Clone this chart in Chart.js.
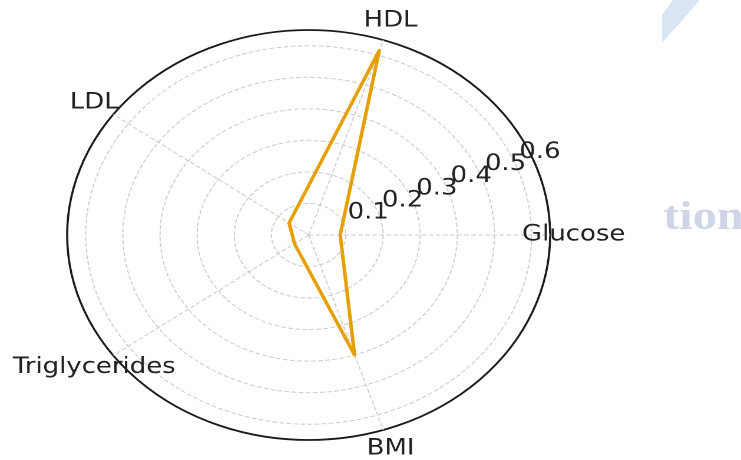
<!DOCTYPE html>
<html>
<head>
<meta charset="utf-8">
<script src="https://cdn.jsdelivr.net/npm/chart.js@4.4.0/dist/chart.umd.min.js"></script>
<style>
  html, body { margin: 0; padding: 0; background: #fff; overflow: hidden; }
  body { width: 741px; height: 460px; position: relative; }
  /* the reference picture is stretched sideways, so the whole chart is too */
  #wrap {
    position: absolute; left: 0; top: 0;
    width: 629px; height: 460px;
    transform: scaleX(1.178); transform-origin: 0 0;
  }
  #mark {
    position: absolute; left: 563px; top: 191px;
    font: bold 41px "Liberation Serif", serif;
    color: #cfd5e6;
  }
  #stripe {
    position: absolute; left: 662px; top: 0; width: 40px; height: 44px;
    background: #d9e4f4;
    clip-path: polygon(0 15px, 11px 0, 38px 0, 0 43px);
  }
</style>
</head>
<body>
<div id="stripe"></div>
<div id="wrap">
  <canvas id="myChart"></canvas>
  <div id="mark">tion</div>
</div>
<script>
var categories = ['Glucose', 'HDL', 'LDL', 'Triglycerides', 'BMI'];
var values = [0.085, 0.615, 0.065, 0.047, 0.40];
var tickValues = [0.1, 0.2, 0.3, 0.4, 0.5, 0.6];
var rMax = 0.65;

// matplotlib goes counter-clockwise from the right, chart.js clockwise
var order = [0, 4, 3, 2, 1];
var labels = order.map(function (i) { return categories[i]; });
var data = order.map(function (i) { return values[i]; });

var polarText = {
  id: 'polarText',
  afterDraw: function (chart) {
    var r = chart.scales.r;
    var ctx = chart.ctx;
    ctx.save();
    ctx.fillStyle = '#222222';
    ctx.font = '22px "DejaVu Sans"';
    ctx.textAlign = 'center';
    ctx.textBaseline = 'middle';
    chart.data.labels.forEach(function (lab, i) {
      var p = r.getPointPosition(i, r.drawingArea + 20);
      ctx.fillText(lab, p.x, p.y);
    });
    // radial tick labels sit along 22.5 degrees like matplotlib
    ctx.textAlign = 'left';
    ctx.textBaseline = 'alphabetic';
    var a = 22.5 * Math.PI / 180;
    tickValues.forEach(function (v) {
      var d = r.getDistanceFromCenterForValue(v);
      ctx.fillText(v.toFixed(1), r.xCenter + d * Math.cos(a) + 4, r.yCenter - d * Math.sin(a) - 4.5);
    });
    ctx.restore();
  }
};

var ctx = document.getElementById('myChart').getContext('2d');
var myRadar = new Chart(ctx, {
  type: 'radar',
  data: {
    labels: labels,
    datasets: [{
      data: data,
      borderColor: '#e69f00',
      borderWidth: 3,
      borderJoinStyle: 'round',
      backgroundColor: 'rgba(0,0,0,0)',
      fill: false,
      pointRadius: 0,
      tension: 0
    }]
  },
  options: {
    responsive: true,
    maintainAspectRatio: false,
    animation: false,
    devicePixelRatio: 2,
    layout: { padding: { left: 57.5, top: 30, right: 161.5, bottom: 20 } },
    plugins: { legend: { display: false }, tooltip: { enabled: false } },
    scales: {
      r: {
        min: 0,
        max: rMax,
        startAngle: 90,
        ticks: { display: false, stepSize: 0.1 },
        pointLabels: { display: false },
        grid: {
          circular: true,
          color: function (c) { return c.tick.value >= rMax - 1e-9 ? '#1a1a1a' : '#cccccc'; },
          lineWidth: function (c) { return c.tick.value >= rMax - 1e-9 ? 1.8 : 1; }
        },
        border: {
          dash: function (c) { return c.tick.value >= rMax - 1e-9 ? [] : [4, 2]; }
        },
        angleLines: { color: '#cccccc', lineWidth: 1, borderDash: [4, 2] }
      }
    }
  },
  plugins: [polarText]
});
</script>
</body>
</html>
